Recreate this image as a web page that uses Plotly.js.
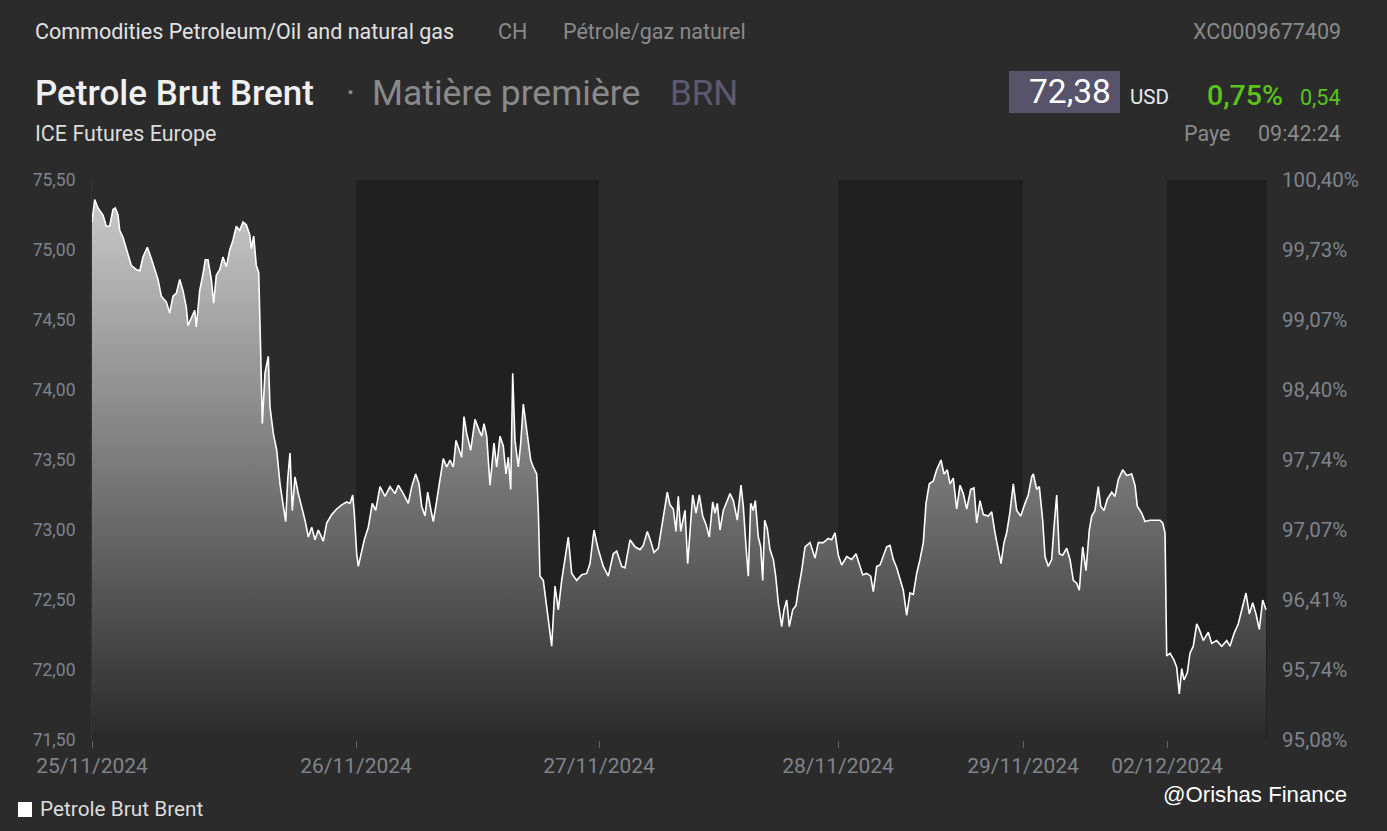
<!DOCTYPE html>
<html>
<head>
<meta charset="utf-8">
<script src="https://cdn.plot.ly/plotly-3.0.1.min.js"></script>
<style>
html,body{margin:0;padding:0;background:#2b2b2b;}
#chart{width:1387px;height:831px;}
</style>
</head>
<body>
<div id="chart"></div>
<script>
// ---- data (time index along the trading sessions, price in USD) ----
const t = [
0,2.7,6,11,14.3,17.7,21,23.3,26,27.7,
31,34.3,39.3,44.3,47.7,51,55.3,59.3,62.7,66,
69.3,74.3,77.7,81,84.3,87.7,91,94.3,96,99.3,
102.7,104.3,107.7,111,113.3,116,119.3,121.7,124.3,127.7,
131,134.3,137.7,141,144.3,147.7,151,154.3,157.7,159.3,
161.7,164.3,166.7,168.3,169,170.3,173,176.3,178,181.3,
184.7,188,191.3,193.7,195.7,198,200.3,203,206.3,209.7,
213,216.3,219.7,223,226.3,231.3,234.7,239.7,244.7,249.7,
254.7,258,260.7,262.3,264.7,266.3,269,272.3,276.3,280.3,
283.7,288,293,298,303,306.3,311.3,316.3,319.7,323.7,
327,329.7,333,335.7,339,341.3,344.7,348,351.3,354.7,
358,361.3,364,367.3,369.7,372,374.7,378.7,383,387.3,
389.7,392,394.7,398,402,404.7,408,411.3,414,416.3,
418.7,420.7,423,426.3,428.7,431.3,434,436.3,438.7,441.3,
444.7,446.3,448,451.3,454.7,459.7,463,466.3,469.7,473,
476.3,479.7,484.7,489.7,494.7,498,502,506.3,511.3,516.3,
521.3,524.7,529.7,533,538,543,548,551.3,555.3,558.7,
562,566.3,569.7,573,575.3,578,581.3,584,586.3,588.7,
593,595.7,598,600.7,604,607.3,610.7,614,617.3,620.7,
623,625.3,628,631.3,634.7,638,641.3,645.3,649,651.3,
654,656.3,658.7,661.3,663.3,666.3,668.7,670.7,672.7,675.3,
678,681.3,683.7,686.3,689.7,692,694.7,697.3,700.7,704,
706.3,709.7,713,718,723,726.3,731.3,736.3,739.7,743,
746.3,749.7,754.7,759.7,764,767.3,770.7,774.7,778.7,781.3,
784.7,788,791.3,794.7,798,801.3,804.7,808,811.3,814.7,
818,821.3,824.7,828,831.3,834,837.3,841.3,844.7,849,
852,855.3,858,861.3,864.7,868,871.3,874.7,878.7,882,
884.7,888,891.3,896.3,899.7,903,906.3,909,912,914.7,
918,921.3,924.7,928.7,933,936.3,939.7,941.3,944.7,947.3,
950.7,953,956.3,959.7,962,964.7,967.3,970.7,974.7,978,
981.3,984.7,987.3,990.7,994,997.3,999.7,1003,1006.3,1008.7,
1012,1015.3,1019.7,1023,1026.3,1030.7,1034.7,1039.7,1043,1045.3,
1049.7,1053,1058,1063,1068,1070.7,1073,1074.7,1078,1082,
1084.7,1087.3,1089.7,1092,1095.3,1098,1101.3,1104.7,1107.3,1111.3,
1116.3,1119.7,1124.7,1129.7,1134.7,1138,1142,1146.3,1149.7,1154,
1157.3,1160.7,1164,1167.3,1170.7,1174
];
const price = [
75.20,75.36,75.30,75.25,75.17,75.17,75.29,75.30,75.25,75.14,
75.09,75.01,74.89,74.86,74.85,74.95,75.02,74.94,74.86,74.79,
74.67,74.63,74.55,74.67,74.69,74.79,74.71,74.59,74.46,74.52,
74.57,74.45,74.71,74.83,74.93,74.93,74.79,74.62,74.82,74.86,
74.95,74.88,75.00,75.07,75.17,75.14,75.20,75.18,75.11,75.01,
75.10,74.89,74.84,74.38,74.07,73.76,74.12,74.24,73.88,73.69,
73.57,73.33,73.17,73.06,73.36,73.55,73.14,73.38,73.26,73.17,
73.07,72.95,73.02,72.93,73.00,72.92,73.05,73.11,73.15,73.18,
73.20,73.19,73.25,73.12,72.83,72.74,72.83,72.93,73.02,73.19,
73.14,73.31,73.24,73.31,73.26,73.32,73.26,73.19,73.31,73.40,
73.33,73.17,73.10,73.27,73.14,73.06,73.21,73.36,73.51,73.45,
73.50,73.45,73.64,73.57,73.52,73.81,73.69,73.57,73.79,73.71,
73.67,73.76,73.67,73.32,73.62,73.45,73.67,73.60,73.40,73.52,
73.29,74.12,73.64,73.45,73.62,73.90,73.74,73.60,73.50,73.45,
73.40,73.14,72.67,72.64,72.45,72.17,72.60,72.43,72.64,72.79,
72.95,72.69,72.64,72.68,72.69,72.76,73.00,72.86,72.74,72.67,
72.83,72.85,72.74,72.73,72.93,72.88,72.86,72.89,72.99,72.92,
72.84,72.87,73.01,73.17,73.27,73.18,73.15,72.99,73.24,72.99,
73.14,72.76,73.00,73.25,73.12,73.25,73.10,73.04,72.95,73.20,
73.12,73.19,73.00,73.14,73.20,73.26,73.21,73.07,73.32,73.17,
72.88,72.67,73.19,73.14,73.21,72.95,72.88,72.64,73.07,73.01,
72.86,72.79,72.67,72.48,72.31,72.43,72.50,72.31,72.43,72.46,
72.57,72.71,72.88,72.91,72.80,72.91,72.91,72.94,72.93,72.98,
72.82,72.75,72.81,72.79,72.83,72.76,72.68,72.69,72.67,72.56,
72.74,72.75,72.81,72.88,72.89,72.79,72.73,72.64,72.57,72.39,
72.55,72.54,72.69,72.79,72.91,73.19,73.33,73.35,73.43,73.50,
73.40,73.43,73.33,73.37,73.15,73.32,73.26,73.15,73.29,73.30,
73.05,73.21,73.11,73.10,73.13,72.98,72.86,72.76,72.91,72.98,
73.13,73.33,73.14,73.10,73.19,73.25,73.38,73.40,73.29,73.31,
73.07,72.81,72.74,72.79,73.02,73.25,72.83,72.82,72.87,72.79,
72.64,72.62,72.57,72.88,72.71,73.00,73.10,73.14,73.31,73.17,
73.14,73.22,73.27,73.24,73.36,73.43,73.39,73.40,73.32,73.17,
73.12,73.06,73.07,73.07,73.07,73.05,72.98,72.10,72.12,72.07,
72.02,71.83,72.01,71.93,71.98,72.12,72.17,72.33,72.29,72.21,
72.27,72.19,72.21,72.17,72.21,72.17,72.26,72.33,72.43,72.55,
72.40,72.48,72.40,72.29,72.50,72.43
];
// session boundaries on the time index, with their date labels
const dayStart = [0, 264, 507, 746, 931, 1075];
const dayEnd = 1175;
const dayLabels = ["25/11/2024","26/11/2024","27/11/2024","28/11/2024","29/11/2024","02/12/2024"];
const priceTicks = [75.5,75.0,74.5,74.0,73.5,73.0,72.5,72.0,71.5];
const priceTickText = ["75,50","75,00","74,50","74,00","73,50","73,00","72,50","72,00","71,50"];
const pctTickText = ["100,40%","99,73%","99,07%","98,40%","97,74%","97,07%","96,41%","95,74%","95,08%"];
const yMin = 71.5, yMax = 75.5;

// ---- layout helpers (pixel -> paper) ----
const L = 92, R = 1267, T = 180, B = 740, W = 1387, H = 831;
const px = x => (x - L) / (R - L);
const py = y => (B - y) / (B - T);

const FONT = "Roboto, 'Noto Sans', sans-serif";
const grey = "#8a8a8a";

function ann(text, x, y, opt) {
  opt = opt || {};
  const xa = opt.xa || "left";
  const shift = xa === "left" ? -2 : 2;
  return {
    text: text, xref: "paper", yref: "paper", x: px(x + shift), y: py(y),
    xanchor: xa, yanchor: "middle", showarrow: false,
    font: {family: opt.family || FONT, size: opt.size || 21.5, color: opt.color || "#dcdcdc", weight: opt.weight || 400}
  };
}

// darker background bands for alternate sessions
const shapes = [];
for (let i = 1; i < dayStart.length; i += 2) {
  const x1 = (i + 1 < dayStart.length) ? dayStart[i + 1] : dayEnd;
  shapes.push({type: "rect", layer: "below", xref: "x", yref: "paper",
    x0: dayStart[i], x1: x1, y0: 0, y1: 1, fillcolor: "#202020", line: {width: 0}});
}
// price box
shapes.push({type: "rect", xref: "paper", yref: "paper", layer: "below",
  x0: px(1009), x1: px(1120), y0: py(113), y1: py(71), fillcolor: "#57536a", line: {width: 0}});
// legend swatch
shapes.push({type: "rect", xref: "paper", yref: "paper",
  x0: px(18), x1: px(32), y0: py(817), y1: py(802), fillcolor: "#ffffff", line: {width: 0}});

const annotations = [
  ann("Commodities Petroleum/Oil and natural gas", 35, 31, {color: "#e2e2e2"}),
  ann("CH", 498, 31, {color: grey}),
  ann("Pétrole/gaz naturel", 563, 31, {color: grey}),
  ann("XC0009677409", 1341, 31, {color: grey, xa: "right"}),
  ann("Petrole Brut Brent", 35, 93, {size: 35, color: "#f0f0f0", weight: 500}),
  ann("·", 346, 93, {size: 35, color: grey}),
  ann("Matière première", 372, 93, {size: 35.5, color: grey}),
  ann("BRN", 670, 93, {size: 35, color: "#5d5a70"}),
  ann("72,38", 1111, 92, {size: 33.5, color: "#ffffff", xa: "right"}),
  ann("USD", 1130, 97, {size: 20.5, color: "#ececec"}),
  ann("0,75%", 1207, 95, {size: 28.5, color: "#5cc31c", weight: 500}),
  ann("0,54", 1300, 97, {size: 21.5, color: "#5cc31c"}),
  ann("ICE Futures Europe", 35, 133, {color: "#dcdcdc"}),
  ann("Paye", 1184, 133, {color: grey}),
  ann("09:42:24", 1341, 133, {color: grey, xa: "right"}),
  ann("Petrole Brut Brent", 40, 809, {size: 20.8, color: "#dcdcdc"}),
  ann("@Orishas Finance", 1347, 794, {size: 22.2, color: "#ffffff", xa: "right", family: "'Liberation Sans', Arial, sans-serif"})
];

const trace = {
  x: t, y: price, type: "scatter", mode: "lines",
  line: {color: "#ffffff", width: 1.6},
  fill: "tozeroy",
  fillgradient: {type: "vertical", colorscale: [[0, "#2a2a2a"], [1, "#cecece"]], start: yMin, stop: yMax},
  hoverinfo: "skip", showlegend: false
};
const trace2 = {
  x: [dayStart[0]], y: [null], yaxis: "y2", type: "scatter", mode: "lines",
  showlegend: false, hoverinfo: "skip"
};

const layout = {
  width: W, height: H,
  margin: {l: L, r: W - R, t: T, b: H - B, pad: 0},
  paper_bgcolor: "#2b2b2b", plot_bgcolor: "#2b2b2b",
  showlegend: false,
  xaxis: {
    range: [0, dayEnd], tickmode: "array", tickvals: dayStart, ticktext: dayLabels,
    ticks: "outside", ticklen: 7, tickcolor: "#666666", tickwidth: 1,
    showgrid: false, zeroline: false, showline: false,
    tickfont: {family: FONT, size: 21, color: "#80848a"}
  },
  yaxis: {
    range: [yMin, yMax], tickmode: "array", tickvals: priceTicks, ticktext: priceTickText,
    ticks: "outside", ticklen: 12, tickcolor: "rgba(0,0,0,0)",
    showgrid: false, zeroline: false, showline: true, linecolor: "#363636", linewidth: 1,
    tickfont: {family: FONT, size: 17.5, color: "#7f848c"}
  },
  yaxis2: {
    overlaying: "y", side: "right", range: [yMin, yMax], tickmode: "array",
    tickvals: priceTicks, ticktext: pctTickText,
    ticks: "outside", ticklen: 10, tickcolor: "rgba(0,0,0,0)",
    showgrid: false, zeroline: false, showline: false,
    tickfont: {family: FONT, size: 20.5, color: "#7f848c"}
  },
  shapes: shapes,
  annotations: annotations
};

Plotly.newPlot("chart", [trace, trace2], layout, {displayModeBar: false, staticPlot: true});
</script>
</body>
</html>
